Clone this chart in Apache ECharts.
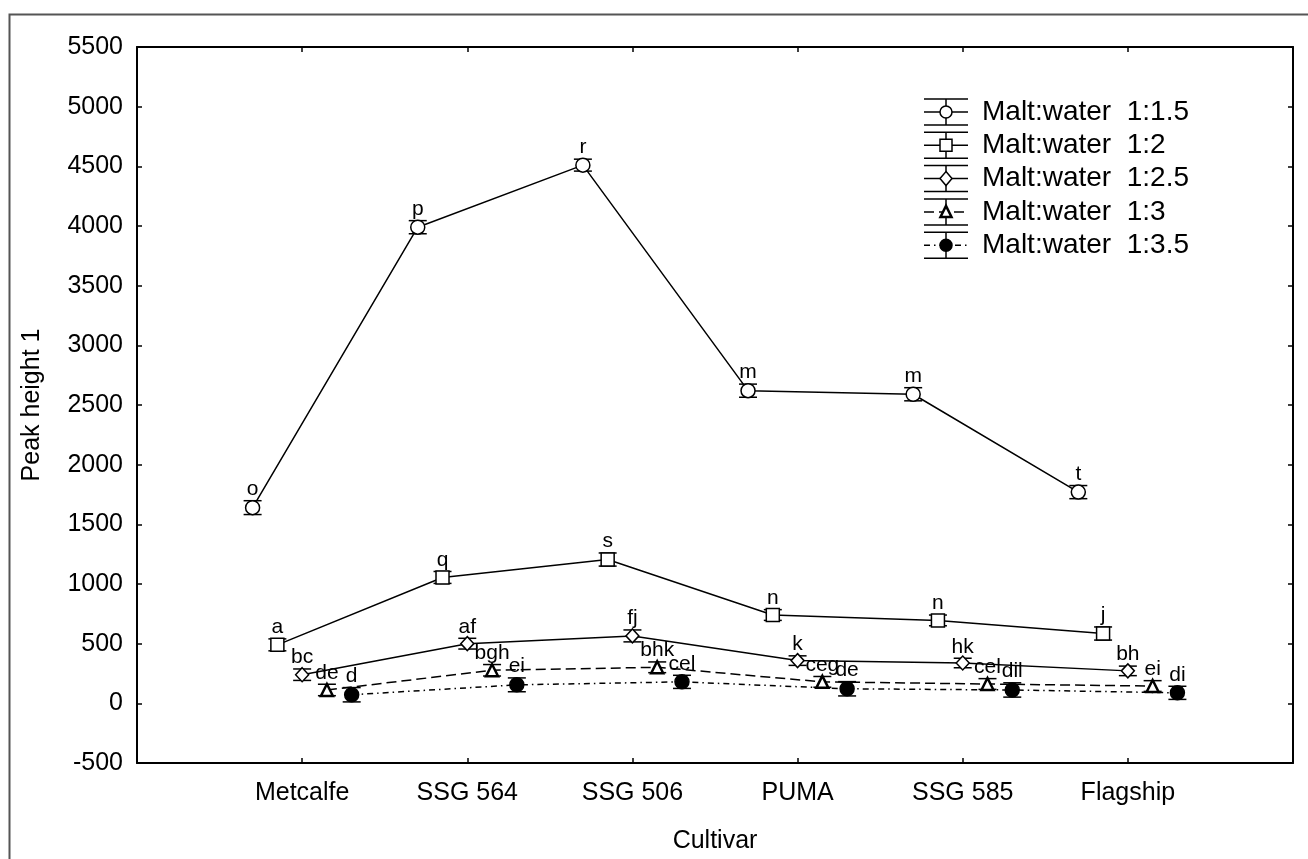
<!DOCTYPE html>
<html>
<head>
<meta charset="utf-8">
<title>Peak height 1 by cultivar</title>
<script src="https://cdn.jsdelivr.net/npm/echarts@6/dist/echarts.min.js"></script>
<style>
  html, body { margin: 0; padding: 0; background: #fff; }
  #chart { width: 1308px; height: 859px; }
</style>
</head>
<body>
<div id="chart"></div>
<script>
// Cultivars on the x axis
const cultivars = ['Metcalfe', 'SSG 564', 'SSG 506', 'PUMA', 'SSG 585', 'Flagship'];

// Series names (malt:water ratio)
const seriesNames = ['Malt:water  1:1.5', 'Malt:water  1:2', 'Malt:water  1:2.5', 'Malt:water  1:3', 'Malt:water  1:3.5'];

// Mean peak height per cultivar
const ratio15 = [1640, 3990, 4510, 2620, 2590, 1770];
const ratio2  = [490, 1055, 1205, 740, 695, 585];
const ratio25 = [240, 500, 565, 358, 338, 272];
const ratio3  = [112, 277, 302, 180, 162, 145];
const ratio35 = [72, 155, 180, 122, 112, 88];

// Half-width of each error bar
const err15 = [58, 55, 50, 55, 55, 55];
const err2  = [50, 50, 55, 45, 45, 55];
const err25 = [48, 45, 50, 40, 40, 40];
const err3  = [48, 48, 45, 45, 45, 45];
const err35 = [60, 58, 55, 60, 60, 55];

// Homogeneous-group letters
const letters15 = ['o', 'p', 'r', 'm', 'm', 't'];
const letters2  = ['a', 'q', 's', 'n', 'n', 'j'];
const letters25 = ['bc', 'af', 'fj', 'k', 'hk', 'bh'];
const letters3  = ['de', 'bgh', 'bhk', 'ceg', 'cel', 'ei'];
const letters35 = ['d', 'ei', 'cel', 'de', 'dil', 'di'];

// Y axis ticks
const yMin = -500, yMax = 5500, yStep = 500;

const FONT = '"Liberation Sans", Arial, Helvetica, sans-serif';

const groups = [
  { values: ratio15, errs: err15, letters: letters15, shift: -0.30, symbol: 'circle',   size: 14, fill: '#fff', dash: 'solid' },
  { values: ratio2,  errs: err2,  letters: letters2,  shift: -0.15, symbol: 'rect',     size: 13, fill: '#fff', dash: 'solid' },
  { values: ratio25, errs: err25, letters: letters25, shift:  0.00, symbol: 'diamond',  size: 13, fill: '#fff', dash: 'solid' },
  { values: ratio3,  errs: err3,  letters: letters3,  shift:  0.15, symbol: 'triangle', size: 12, fill: '#fff', dash: [10, 5] },
  { values: ratio35, errs: err35, letters: letters35, shift:  0.30, symbol: 'circle',   size: 14, fill: '#000', dash: [6, 4, 1.5, 4] }
];

const chart = echarts.init(document.getElementById('chart'), null, { renderer: 'canvas' });

function errorBarRenderer(g) {
  return function (params, api) {
    const x = api.value(0), y = api.value(1), e = api.value(2);
    const top = api.coord([x, y + e]);
    const bot = api.coord([x, y - e]);
    const hw = 9;
    const st = { stroke: '#000', lineWidth: 1.5 };
    return {
      type: 'group',
      children: [
        { type: 'line', shape: { x1: top[0], y1: top[1], x2: bot[0], y2: bot[1] }, style: st },
        { type: 'line', shape: { x1: top[0] - hw, y1: top[1], x2: top[0] + hw, y2: top[1] }, style: st },
        { type: 'line', shape: { x1: bot[0] - hw, y1: bot[1], x2: bot[0] + hw, y2: bot[1] }, style: st },
        { type: 'text', x: top[0], y: top[1] - 1,
          style: { text: g.letters[params.dataIndex], align: 'center', verticalAlign: 'bottom',
                   font: '21px ' + FONT, fill: '#000' } }
      ]
    };
  };
}

const series = [];
groups.forEach(function (g, i) {
  const pts = g.values.map(function (v, k) { return [k + g.shift, v]; });
  series.push({
    type: 'custom',
    name: seriesNames[i] + ' err',
    renderItem: errorBarRenderer(g),
    data: g.values.map(function (v, k) { return [k + g.shift, v, g.errs[k]]; }),
    z: 2,
    silent: true
  });
  series.push({
    type: 'line',
    name: seriesNames[i],
    data: pts,
    symbol: g.symbol,
    symbolSize: g.symbol === 'diamond' ? [13, 14] : g.size,
    showSymbol: true,
    lineStyle: { color: '#000', width: 1.5, type: g.dash },
    itemStyle: { color: g.fill, borderColor: '#000', borderWidth: g.symbol === 'triangle' ? 2.5 : 1.5 },
    z: 3,
    animation: false
  });
});

// Legend drawn with error-bar glyphs
const legendItems = [];
const lx0 = 924, lx1 = 968, lcx = 946, ltext = 982, ly0 = 112, lstep = 33.3;
groups.forEach(function (g, i) {
  const y = ly0 + i * lstep;
  const st = { stroke: '#000', lineWidth: 1.5 };
  legendItems.push({ type: 'line', shape: { x1: lx0, y1: y - 13, x2: lx1, y2: y - 13 }, style: st });
  legendItems.push({ type: 'line', shape: { x1: lx0, y1: y + 13, x2: lx1, y2: y + 13 }, style: st });
  legendItems.push({ type: 'line', shape: { x1: lcx, y1: y - 13, x2: lcx, y2: y + 13 }, style: st });
  legendItems.push({ type: 'line', shape: { x1: lx0, y1: y, x2: lx1, y2: y },
    style: { stroke: '#000', lineWidth: 1.5, lineDash: g.dash === 'solid' ? null : g.dash } });
  const ms = { fill: g.fill, stroke: '#000', lineWidth: g.symbol === 'triangle' ? 2.5 : 1.5 };
  if (g.symbol === 'circle') {
    legendItems.push({ type: 'circle', shape: { cx: lcx, cy: y, r: 6 }, style: ms });
  } else if (g.symbol === 'rect') {
    legendItems.push({ type: 'rect', shape: { x: lcx - 6, y: y - 6, width: 12, height: 12 }, style: ms });
  } else if (g.symbol === 'diamond') {
    legendItems.push({ type: 'polygon', shape: { points: [[lcx, y - 7], [lcx + 6, y], [lcx, y + 7], [lcx - 6, y]] }, style: ms });
  } else {
    legendItems.push({ type: 'polygon', shape: { points: [[lcx, y - 6], [lcx + 5.5, y + 5], [lcx - 5.5, y + 5]] }, style: ms });
  }
  legendItems.push({ type: 'text', x: ltext, y: y,
    style: { text: seriesNames[i], font: '28px ' + FONT, fill: '#000', verticalAlign: 'middle', align: 'left' } });
});

const option = {
  backgroundColor: '#fff',
  animation: false,
  grid: { left: 137, top: 47, right: 15, bottom: 94, containLabel: false },
  xAxis: [
    {
      type: 'value', min: -1, max: 6, interval: 1, position: 'bottom',
      name: 'Cultivar', nameLocation: 'middle', nameGap: 66,
      nameTextStyle: { fontFamily: FONT, fontSize: 25, color: '#000' },
      axisLine: { onZero: false, lineStyle: { color: '#000', width: 2 } },
      axisTick: { inside: true, length: 5, lineStyle: { color: '#000', width: 1.5 } },
      axisLabel: {
        margin: 18, fontFamily: FONT, fontSize: 25, color: '#000',
        formatter: function (v) { return cultivars[v] !== undefined ? cultivars[v] : ''; }
      },
      splitLine: { show: false }
    },
    {
      type: 'value', min: -1, max: 6, interval: 1, position: 'top',
      axisLine: { show: true, onZero: false, lineStyle: { color: '#000', width: 2 } },
      axisTick: { show: true, inside: true, length: 5, lineStyle: { color: '#000', width: 1.5 } },
      axisLabel: { show: false },
      splitLine: { show: false }
    }
  ],
  yAxis: [
    {
      type: 'value', min: yMin, max: yMax, interval: yStep, position: 'left',
      name: 'Peak height 1', nameLocation: 'middle', nameGap: 92, nameRotate: 90,
      nameTextStyle: { fontFamily: FONT, fontSize: 25, color: '#000' },
      axisLine: { show: true, onZero: false, lineStyle: { color: '#000', width: 2 } },
      axisTick: { show: true, inside: true, length: 5, lineStyle: { color: '#000', width: 1.5 } },
      axisLabel: { margin: 14, fontFamily: FONT, fontSize: 25, color: '#000',
                   formatter: function (v) { return String(v); } },
      splitLine: { show: false }
    },
    {
      type: 'value', min: yMin, max: yMax, interval: yStep, position: 'right',
      axisLine: { show: true, onZero: false, lineStyle: { color: '#000', width: 2 } },
      axisTick: { show: true, inside: true, length: 5, lineStyle: { color: '#000', width: 1.5 } },
      axisLabel: { show: false },
      splitLine: { show: false }
    }
  ],
  series: series,
  graphic: [
    { type: 'rect', left: 7, top: 12, shape: { width: 1400, height: 1000 },
      style: { fill: 'none', stroke: '#555', lineWidth: 2 }, z: -1, silent: true },
    { type: 'group', children: legendItems, z: 10 }
  ]
};

chart.setOption(option);
</script>
</body>
</html>
